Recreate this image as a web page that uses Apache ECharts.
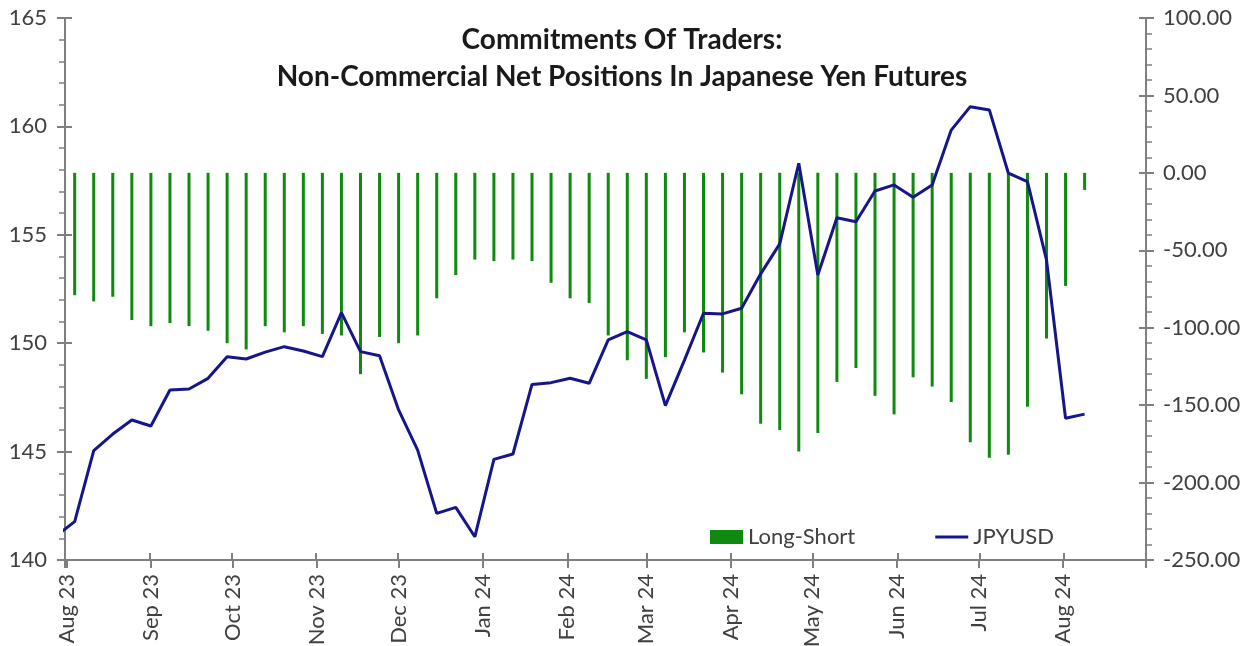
<!DOCTYPE html>
<html>
<head>
<meta charset="utf-8">
<script src="https://cdn.jsdelivr.net/npm/echarts@6/dist/echarts.min.js"></script>
<style>
html,body{margin:0;padding:0;background:#fff;}
#chart{width:1243px;height:646px;}
</style>
</head>
<body>
<div id="chart"></div>
<script>
// Weekly report dates (Fridays)
const weekDates = [
  '2023-07-28','2023-08-04','2023-08-11','2023-08-18','2023-08-25',
  '2023-09-01','2023-09-08','2023-09-15','2023-09-22','2023-09-29',
  '2023-10-06','2023-10-13','2023-10-20','2023-10-27',
  '2023-11-03','2023-11-10','2023-11-17','2023-11-24',
  '2023-12-01','2023-12-08','2023-12-15','2023-12-22','2023-12-29',
  '2024-01-05','2024-01-12','2024-01-19','2024-01-26',
  '2024-02-02','2024-02-09','2024-02-16','2024-02-23',
  '2024-03-01','2024-03-08','2024-03-15','2024-03-22','2024-03-29',
  '2024-04-05','2024-04-12','2024-04-19','2024-04-26',
  '2024-05-03','2024-05-10','2024-05-17','2024-05-24','2024-05-31',
  '2024-06-07','2024-06-14','2024-06-21','2024-06-28',
  '2024-07-05','2024-07-12','2024-07-19','2024-07-26',
  '2024-08-02','2024-08-09'
];
// Non-commercial net positions (thousand contracts), null where no bar
const longShort = [
  null,-79,-83,-80,-95,
  -99,-97,-99,-102,-110,
  -114,-99,-103,-99,
  -104,-105,-130,-106,
  -110,-105,-81,-66,-56,
  -57,-56,-57,-71,
  -81,-84,-105,-121,
  -133,-119,-103,-116,-129,
  -143,-162,-166,-180,
  -168,-135,-126,-144,-156,
  -132,-138,-148,-174,
  -184,-182,-151,-107,
  -73,-11
];
// JPYUSD (USD/JPY level)
const jpyusd = [
  141.1,141.77,145.04,145.81,146.46,
  146.18,147.84,147.89,148.38,149.38,
  149.27,149.59,149.84,149.64,
  149.38,151.41,149.61,149.42,
  146.92,145.07,142.15,142.43,141.07,
  144.64,144.89,148.10,148.18,
  148.38,148.15,150.15,150.53,
  150.15,147.12,149.22,151.38,151.35,
  151.61,153.2,154.58,158.3,
  153.15,155.79,155.6,157.02,157.3,
  156.73,157.3,159.83,160.91,
  160.76,157.84,157.45,153.84,
  146.54,146.73
];
const xStart = '2023-08-01';
const xEnd = '2024-08-31';
const monthNames = ['Jan','Feb','Mar','Apr','May','Jun','Jul','Aug','Sep','Oct','Nov','Dec'];
const titleText = 'Commitments Of Traders:\nNon-Commercial Net Positions In Japanese Yen Futures';

const ts = weekDates.map(d => Date.parse(d));
const barData = [];
ts.forEach((t, i) => { if (longShort[i] !== null) barData.push([t, longShort[i]]); });
const lineData = ts.map((t, i) => [t, jpyusd[i]]);

const AX = '#7f7f7f';
const LBL = '#404040';
const FONT = 'Lato';
const FS = 22;

function monthLabel(v) {
  const d = new Date(v);
  if (d.getUTCDate() !== 1) return '';
  return monthNames[d.getUTCMonth()] + ' ' + String(d.getUTCFullYear()).slice(2);
}

const xBase = {
  type: 'time',
  min: Date.parse(xStart),
  max: Date.parse(xEnd),
  minInterval: 31 * 86400000,
  maxInterval: 31 * 86400000,
  splitLine: { show: false },
  position: 'bottom'
};

const chart = echarts.init(document.getElementById('chart'));
chart.setOption({
  useUTC: true,
  animation: false,
  backgroundColor: '#ffffff',
  title: {
    text: titleText,
    left: 617,
    top: 16,
    textAlign: 'center',
    textStyle: { fontFamily: FONT, fontWeight: 'bold', fontSize: 28, lineHeight: 37, color: '#1a1a1a', align: 'center' }
  },
  legend: {
    left: 705,
    top: 521,
    itemGap: 80,
    itemWidth: 33,
    itemHeight: 14,
    textStyle: { fontFamily: FONT, fontSize: FS, color: LBL },
    data: [
      { name: 'Long-Short', icon: 'rect' },
      { name: 'JPYUSD', icon: 'path://M0,0 M33,14 M0,5.5 L33,5.5 L33,8.5 L0,8.5 Z' }
    ]
  },
  grid: { left: 65, right: 97, top: 18, bottom: 86, containLabel: false, outerBoundsMode: 'none' },
  xAxis: [
    Object.assign({}, xBase, {
      axisLine: { show: true, onZero: false, lineStyle: { color: AX, width: 2 } },
      axisTick: { show: true, inside: false, length: 8, lineStyle: { color: AX, width: 2 } },
      axisLabel: {
        show: true, rotate: 90, margin: 14, formatter: monthLabel,
        fontFamily: FONT, fontSize: FS, color: LBL, showMinLabel: true, showMaxLabel: true,
        hideOverlap: false
      }
    }),
    Object.assign({}, xBase, {
      axisLine: { show: false, onZero: false },
      axisTick: { show: true, inside: true, length: 7, lineStyle: { color: AX, width: 2 } },
      axisLabel: { show: false }
    })
  ],
  yAxis: [
    {
      type: 'value', position: 'left', min: 140, max: 165, interval: 5,
      splitLine: { show: false },
      axisLine: { show: true, onZero: false, lineStyle: { color: AX, width: 2 } },
      axisTick: { show: true, inside: false, length: 8, lineStyle: { color: AX, width: 2 } },
      minorTick: { show: true, splitNumber: 5, length: 6, lineStyle: { color: AX, width: 1.5 } },
      axisLabel: { margin: 18, fontFamily: FONT, fontSize: FS, color: LBL }
    },
    {
      type: 'value', position: 'right', min: -250, max: 100, interval: 50,
      splitLine: { show: false },
      axisLine: { show: true, onZero: false, lineStyle: { color: AX, width: 2 } },
      axisTick: { show: true, inside: false, length: 8, lineStyle: { color: AX, width: 2 } },
      minorTick: { show: true, splitNumber: 5, length: 6, lineStyle: { color: AX, width: 1.5 } },
      axisLabel: { margin: 17, fontFamily: FONT, fontSize: FS, color: LBL, formatter: v => v.toFixed(2) }
    },
    {
      type: 'value', position: 'left', min: 140, max: 165, interval: 5,
      splitLine: { show: false }, axisLine: { show: false, onZero: false }, axisLabel: { show: false },
      axisTick: { show: true, inside: true, length: 7, lineStyle: { color: AX, width: 2 } }
    },
    {
      type: 'value', position: 'right', min: -250, max: 100, interval: 50,
      splitLine: { show: false }, axisLine: { show: false, onZero: false }, axisLabel: { show: false },
      axisTick: { show: true, inside: true, length: 7, lineStyle: { color: AX, width: 2 } }
    }
  ],
  series: [
    {
      name: 'Long-Short',
      type: 'bar',
      xAxisIndex: 0,
      yAxisIndex: 1,
      barWidth: 3,
      itemStyle: { color: '#0f8a0f' },
      data: barData
    },
    {
      name: 'JPYUSD',
      type: 'line',
      xAxisIndex: 0,
      yAxisIndex: 0,
      symbol: 'none',
      clip: true,
      lineStyle: { color: '#16168a', width: 3 },
      itemStyle: { color: '#16168a' },
      data: lineData
    }
  ]
});
</script>
</body>
</html>
